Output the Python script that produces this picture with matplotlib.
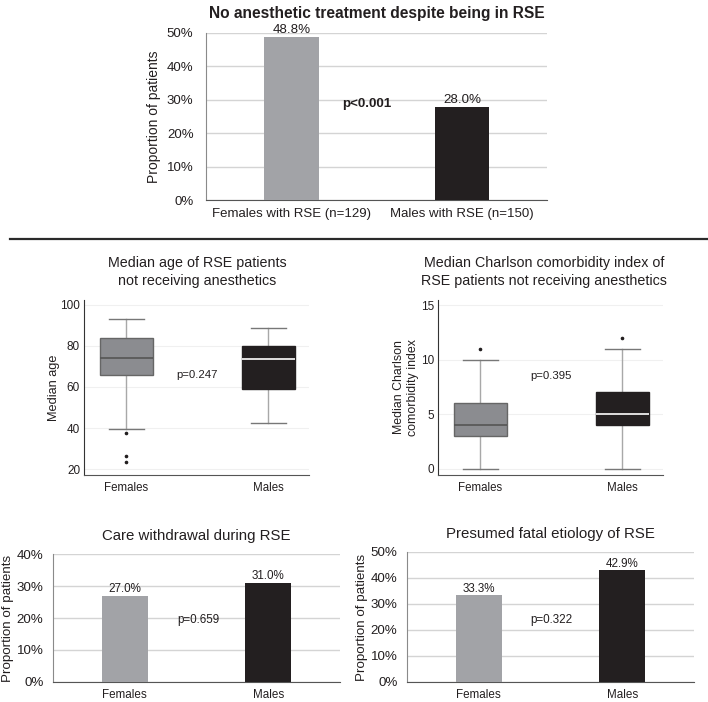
import matplotlib
matplotlib.use('Agg')
import matplotlib.pyplot as plt
from matplotlib.lines import Line2D
from matplotlib.ticker import PercentFormatter

plt.rcParams['font.family'] = ['Liberation Sans', 'DejaVu Sans']
plt.rcParams['text.color'] = '#231f20'
plt.rcParams['axes.labelcolor'] = '#231f20'
plt.rcParams['xtick.color'] = '#231f20'
plt.rcParams['ytick.color'] = '#231f20'

# ==== DATA ====
top_cats = ['Females with RSE (n=129)', 'Males with RSE (n=150)']
top_vals = [48.8, 28.0]
top_p = 'p<0.001'

sex_cats = ['Females', 'Males']

# box stats: whislo, q1, med, q3, whishi, fliers
age_f = [39.5, 66, 74, 84, 93, [37.5, 26.5, 23.5]]
age_m = [42.5, 59, 73.5, 80, 89, []]
age_p = 'p=0.247'

cci_f = [0, 3, 4, 6, 10, [11]]
cci_m = [0, 4, 5, 7, 11, [12]]
cci_p = 'p=0.395'

care_vals = [27.0, 31.0]
care_p = 'p=0.659'

fatal_vals = [33.3, 42.9]
fatal_p = 'p=0.322'

c_fem = '#a2a3a7'
c_mal = '#231f20'

fig = plt.figure(figsize=(7.08, 7.02), dpi=100)


def bar_panel(ax, cats, vals, ymax, step, pval, pxy, fs_tick, fs_lab, bold_p=False):
  x = range(len(cats))
  ax.bar(x, vals, width=0.32, color=[c_fem, c_mal], zorder=3)
  for xi, v in zip(x, vals):
    ax.text(xi, v + ymax * 0.005, '%.1f%%' % v, ha='center', va='bottom', fontsize=fs_lab, zorder=4)
  ax.set_xlim(-0.5, 1.5)
  ax.set_ylim(0, ymax)
  ax.set_yticks(range(0, ymax + 1, step))
  ax.yaxis.set_major_formatter(PercentFormatter(decimals=0))
  ax.set_xticks(list(x))
  ax.set_xticklabels(cats)
  ax.grid(axis='y', color='#d4d4d4', lw=1, zorder=0)
  for s in ['top', 'right']:
    ax.spines[s].set_visible(False)
  ax.spines['left'].set_color('#8a8a8a')
  ax.spines['bottom'].set_color('#555555')
  ax.tick_params(length=0, labelsize=fs_tick)
  ax.text(pxy[0], pxy[1], pval, ha='center', va='center', fontsize=fs_lab,
          fontweight='bold' if bold_p else 'normal', zorder=4)


def box_panel(ax, fem, mal, ylim, yticks, pval, pxy):
  stats = []
  for lab, s in zip(sex_cats, [fem, mal]):
    stats.append(dict(label=lab, whislo=s[0], q1=s[1], med=s[2], q3=s[3], whishi=s[4], fliers=s[5]))
  bp = ax.bxp(stats, positions=[0, 1], widths=0.37, patch_artist=True, capwidths=0.25,
              flierprops=dict(marker='o', markersize=1.6, markerfacecolor='#231f20',
                              markeredgecolor='#231f20'))
  for patch, fc, ec in zip(bp['boxes'], ['#8b8c90', c_mal], ['#666666', c_mal]):
    patch.set_facecolor(fc)
    patch.set_edgecolor(ec)
    patch.set_zorder(3)
  for med, mc in zip(bp['medians'], ['#555555', 'white']):
    med.set_color(mc)
    med.set_linewidth(1.2)
    med.set_zorder(4)
  for w in bp['whiskers']:
    w.set_color('#a8a8a8')
  for c in bp['caps']:
    c.set_color('#777777')
  ax.set_xlim(-0.296, 1.288)
  ax.set_ylim(*ylim)
  ax.set_yticks(yticks)
  ax.grid(axis='y', color='#f0f0f0', lw=0.8, zorder=0)
  for s in ['top', 'right']:
    ax.spines[s].set_visible(False)
  ax.spines['left'].set_color('#333333')
  ax.spines['bottom'].set_color('#555555')
  ax.tick_params(length=0, labelsize=8.5)
  ax.tick_params(axis='x', labelsize=8.3, pad=5)
  ax.tick_params(axis='y', pad=3)
  ax.text(pxy[0], pxy[1], pval, ha='center', va='center', fontsize=8.2)


# ==== TOP ====
ax1 = fig.add_axes([0.291, 0.715, 0.482, 0.238])
bar_panel(ax1, top_cats, top_vals, 50, 10, top_p, (0.44, 28.7), 9.5, 9.6, bold_p=True)
ax1.tick_params(axis='x', pad=6)
ax1.tick_params(axis='y', pad=9)
ax1.set_ylabel('Proportion of patients', fontsize=10, labelpad=4)
ax1.set_title('No anesthetic treatment despite being in RSE', fontsize=11.2,
              fontweight='bold', pad=11)

fig.add_artist(Line2D([10 / 708, 1.0], [1 - 239 / 702] * 2, color='#2a2a2a', lw=1.6))

# ==== MIDDLE ====
ax2 = fig.add_axes([0.119, 0.3234, 0.318, 0.2492])
box_panel(ax2, age_f, age_m, (17.1, 102.4), [20, 40, 60, 80, 100], age_p, (0.5, 65.9))
ax2.set_ylabel('Median age', fontsize=9.2, labelpad=0)
ax2.set_title('Median age of RSE patients\nnot receiving anesthetics', fontsize=10.3,
              linespacing=1.3, pad=11)

ax3 = fig.add_axes([0.619, 0.3234, 0.318, 0.2492])
box_panel(ax3, cci_f, cci_m, (-0.55, 15.46), [0, 5, 10, 15], cci_p, (0.5, 8.5))
ax3.set_ylabel('Median Charlson\ncomorbidity index', fontsize=8.9, labelpad=1, linespacing=1.3)
ax3.set_title('Median Charlson comorbidity index of\nRSE patients not receiving anesthetics',
              fontsize=10.3, linespacing=1.3, pad=11, x=0.47)

# ==== BOTTOM ====
ax4 = fig.add_axes([0.075, 0.0285, 0.405, 0.1823])
bar_panel(ax4, sex_cats, care_vals, 40, 10, care_p, (0.51, 19.4), 8.4, 8.4)
ax4.tick_params(axis='y', labelsize=9.6, pad=7)
ax4.tick_params(axis='x', pad=5)
ax4.set_ylabel('Proportion of patients', fontsize=9.6, labelpad=2)
ax4.set_title('Care withdrawal during RSE', fontsize=10.8, pad=10)

ax5 = fig.add_axes([0.575, 0.0285, 0.405, 0.1852])
bar_panel(ax5, sex_cats, fatal_vals, 50, 10, fatal_p, (0.503, 23.8), 8.4, 8.4)
ax5.tick_params(axis='y', labelsize=9.6, pad=7)
ax5.tick_params(axis='x', pad=5)
ax5.set_ylabel('Proportion of patients', fontsize=9.6, labelpad=2)
ax5.set_title('Presumed fatal etiology of RSE', fontsize=10.8, pad=10)

fig.savefig('out.png', dpi=100)
